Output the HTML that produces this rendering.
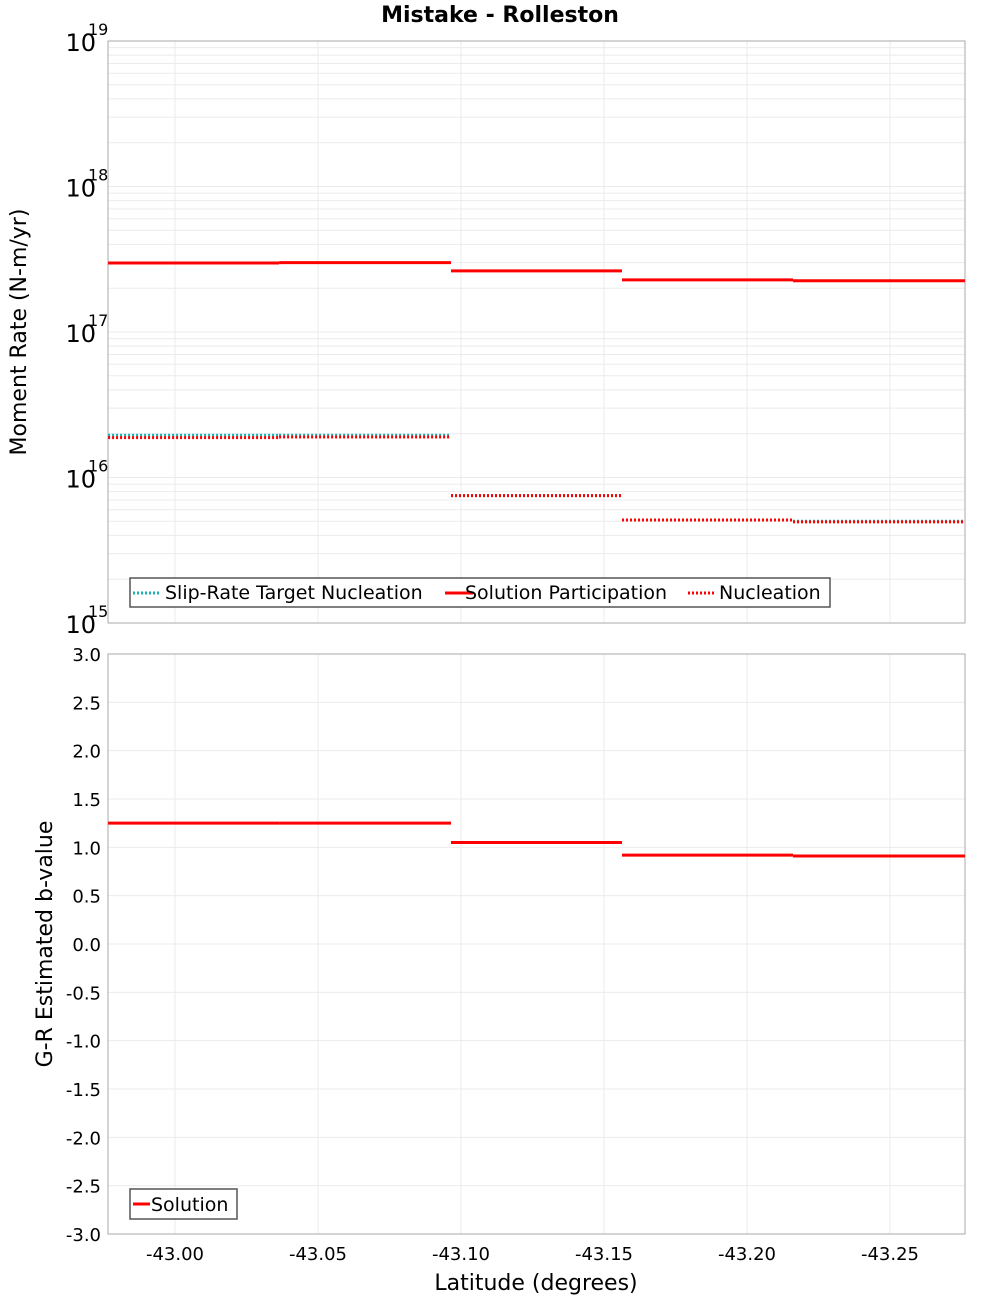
<!DOCTYPE html>
<html><head><meta charset="utf-8"><style>
body{margin:0;background:#fff;}
svg{font-family:"DejaVu Sans","Liberation Sans",sans-serif;}
</style></head><body>
<svg id="c" width="1000" height="1300" xmlns="http://www.w3.org/2000/svg"></svg>
<script>
const bounds=[-42.9766,-43.0364,-43.0965,-43.1563,-43.2161,-43.2762];
const participation=[2.98e17,3.0e17,2.63e17,2.28e17,2.25e17];
const targetNucl=[1.95e16,1.95e16,7.5e15,5.1e15,5.0e15];
const nucleation=[1.88e16,1.9e16,7.5e15,5.1e15,4.95e15];
const bvalues=[1.25,1.25,1.05,0.92,0.91];
const xTicks=[-43.00,-43.05,-43.10,-43.15,-43.20,-43.25];
const logTicks=[15,16,17,18,19];
const bTicks=[3.0,2.5,2.0,1.5,1.0,0.5,0.0,-0.5,-1.0,-1.5,-2.0,-2.5,-3.0];

const NS="http://www.w3.org/2000/svg";
const svg=document.getElementById('c');
function mk(t,a,p){const e=document.createElementNS(NS,t);for(const k in a)e.setAttribute(k,a[k]);(p||svg).appendChild(e);return e;}
const L=108,R=965,T1=41,B1=623,T2=654,B2=1234;
const x=v=>175+(-43-v)*2860;
const yLog=v=>B1-(Math.log10(v)-15)*(B1-T1)/4;
const yB=v=>T2+(3-v)*(B2-T2)/6;

// panels
for(const [t,b,n] of [[T1,B1,'moment-panel'],[T2,B2,'bvalue-panel']]){
  const r=mk('rect',{x:L,y:t,width:R-L,height:b-t,fill:'#fff',stroke:'none'});
  
}
// grid
for(const tk of xTicks){
  for(const [t,b] of [[T1,B1],[T2,B2]]){
    const g=mk('line',{x1:x(tk),x2:x(tk),y1:t,y2:b,stroke:'#ebebeb','stroke-width':1});
    
  }
}
for(let d=15;d<19;d++){for(let m=1;m<10;m++){const yy=yLog(m*Math.pow(10,d));
  const g=mk('line',{x1:L,x2:R,y1:yy,y2:yy,stroke:'#ebebeb','stroke-width':1});
  }}
for(const tk of bTicks){const g=mk('line',{x1:L,x2:R,y1:yB(tk),y2:yB(tk),stroke:'#ebebeb','stroke-width':1});
  }
for(const [t,b,n] of [[T1,B1,'moment-frame'],[T2,B2,'bvalue-frame']]){
  const r=mk('rect',{x:L,y:t,width:R-L,height:b-t,fill:'none',stroke:'#aaa'});
  
}
// series
function segs(vals,yf,color,dash,name){
  for(let i=0;i<vals.length;i++){
    const a={x1:x(bounds[i]),x2:x(bounds[i+1]),y1:yf(vals[i]),y2:yf(vals[i]),stroke:color,'stroke-width':3};
    if(dash)a['stroke-dasharray']='2,2';
    const l=mk('line',a);
    
  }
}
segs(participation,yLog,'#ff0000',false,'participation-segment');
segs(targetNucl,yLog,'#19b3b3',true,'target-nucleation-segment');
segs(nucleation,yLog,'#ff0000',true,'nucleation-segment');
segs(bvalues,yB,'#ff0000',false,'bvalue-segment');

// tick labels
for(const d of logTicks){
  const t=mk('text',{x:96,y:yLog(Math.pow(10,d))+10,'text-anchor':'end','font-size':24});
  t.textContent='10';
  const s=mk('text',{x:88,y:yLog(Math.pow(10,d))-6,'font-size':16});
  s.textContent=String(d);
}
for(const tk of bTicks){
  const t=mk('text',{x:101,y:yB(tk)+7,'text-anchor':'end','font-size':18});
  t.textContent=tk.toFixed(1);
}
for(const tk of xTicks){
  const t=mk('text',{x:x(tk),y:1260,'text-anchor':'middle','font-size':18});
  t.textContent=tk.toFixed(2);
}
// titles
let t=mk('text',{x:500,y:22,'text-anchor':'middle','font-size':22,'font-weight':'bold'});
t.textContent='Mistake - Rolleston';
t=mk('text',{x:536,y:1290,'text-anchor':'middle','font-size':22});
t.textContent='Latitude (degrees)';
t=mk('text',{x:0,y:0,'text-anchor':'middle','font-size':22,transform:'translate(26,332) rotate(-90)'});
t.textContent='Moment Rate (N-m/yr)';
t=mk('text',{x:0,y:0,'text-anchor':'middle','font-size':22,transform:'translate(52,944) rotate(-90)'});
t.textContent='G-R Estimated b-value';

// legends
let g=mk('g',{});
mk('rect',{x:130,y:578,width:700,height:29,fill:'#fff',stroke:'#555','stroke-width':1.5},g);
const items=[[133,'#19b3b3',true,'Slip-Rate Target Nucleation',165],[445,'#ff0000',false,'Solution Participation',465],[688,'#ff0000',true,'Nucleation',719]];
for(const [lx,c,d,txt,tx] of items){
  const a={x1:lx,x2:lx+28,y1:593,y2:593,stroke:c,'stroke-width':3};if(d)a['stroke-dasharray']='2,2';
  const l=mk('line',a,g);
  const tt=mk('text',{x:tx,y:599,'font-size':19},g);tt.textContent=txt;
  
}
g=mk('g',{});
mk('rect',{x:130,y:1189,width:107,height:30,fill:'#fff',stroke:'#555','stroke-width':1.5},g);
let l=mk('line',{x1:133,x2:150,y1:1204,y2:1204,stroke:'#ff0000','stroke-width':3},g);

t=mk('text',{x:151,y:1211,'font-size':19},g);t.textContent='Solution';

</script>
</body></html>
